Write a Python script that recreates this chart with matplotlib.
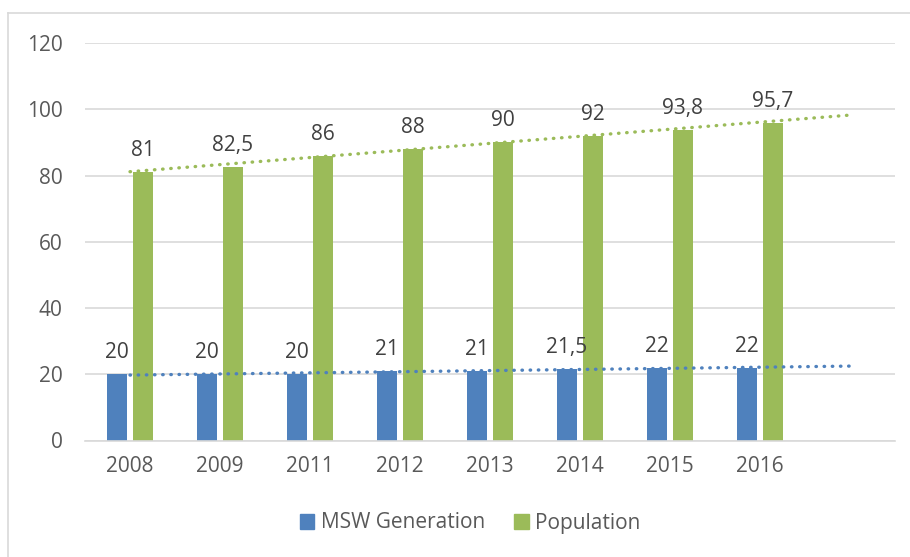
import numpy as np
import matplotlib.pyplot as plt
from matplotlib.patches import Patch
from matplotlib.lines import Line2D

# Data
years = ['2008', '2009', '2011', '2012', '2013', '2014', '2015', '2016']
msw = [20, 20, 20, 21, 21, 21.5, 22, 22]
population = [81, 82.5, 86, 88, 90, 92, 93.8, 95.7]
msw_labels = ['20', '20', '20', '21', '21', '21,5', '22', '22']
pop_labels = ['81', '82,5', '86', '88', '90', '92', '93,8', '95,7']

blue = '#4f81bd'
green = '#9bbb59'
grid_col = '#d9d9d9'

plt.rcParams['font.family'] = ['Open Sans', 'DejaVu Sans']

W, H = 910, 557
fig = plt.figure(figsize=(W / 100, H / 100), dpi=100)
ax = fig.add_axes([85 / W, 1 - 440.5 / H, 810 / W, 397.5 / H])

x = np.arange(len(years))
bw = 0.222
off = 0.144
ax.bar(x - off, msw, bw, color=blue, zorder=2)
ax.bar(x + off, population, bw, color=green, zorder=2)

# Linear trendlines, forecast forward one period
xt = np.arange(len(years) + 1)
for vals, col in [(msw, blue), (population, green)]:
    k, b = np.polyfit(x, vals, 1)
    ax.plot(xt, k * xt + b, color=col, lw=2.4, linestyle=(0, (0.15, 2.3)),
            dash_capstyle='round', zorder=3)

# Data labels
for xi, v, lab in zip(x, msw, msw_labels):
    ax.annotate(lab, (xi - off, v), xytext=(0, 8), textcoords='offset points',
                ha='center', va='bottom', fontsize=15, color='#404040')
for xi, v, lab in zip(x, population, pop_labels):
    ax.annotate(lab, (xi + off, v), xytext=(0, 8), textcoords='offset points',
                ha='center', va='bottom', fontsize=15, color='#404040')

ax.set_xlim(-0.5, len(years) + 0.5)
ax.set_ylim(0, 120)
ax.set_yticks(range(0, 121, 20))
ax.set_xticks(x)
ax.set_xticklabels(years)
ax.tick_params(length=0, labelsize=15, labelcolor='#595959')
ax.tick_params(axis='y', pad=16)
ax.tick_params(axis='x', pad=11)
ax.grid(axis='y', color=grid_col, lw=1.2, zorder=0)
ax.set_axisbelow(True)
for s in ['top', 'right', 'left']:
    ax.spines[s].set_visible(False)
ax.spines['bottom'].set_color(grid_col)
ax.spines['bottom'].set_linewidth(1.2)

handles = [Patch(color=blue, label='MSW Generation'),
           Patch(color=green, label='Population')]
fig.legend(handles=handles, loc='center', bbox_to_anchor=(470 / W, 1 - 523 / H),
           ncol=2, frameon=False, fontsize=15, handlelength=0.7, handleheight=0.7,
           handletextpad=0.3, columnspacing=1.4, labelcolor='#595959')

# Chart border (left and top edges visible)
fig.add_artist(Line2D([8 / W, 8 / W], [0, 1 - 13 / H], color=grid_col, lw=1.2))
fig.add_artist(Line2D([8 / W, 1], [1 - 13 / H, 1 - 13 / H], color=grid_col, lw=1.2))

fig.savefig('out.png', dpi=100)
